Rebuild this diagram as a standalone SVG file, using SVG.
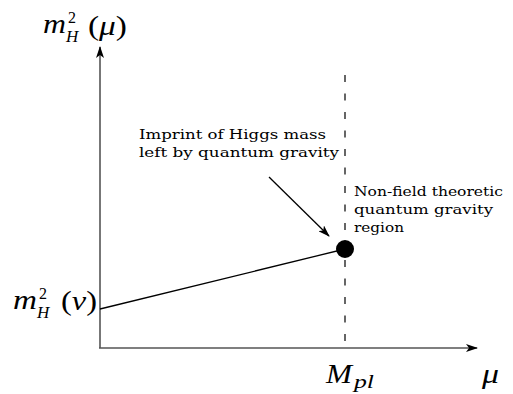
<svg xmlns="http://www.w3.org/2000/svg" width="513" height="394" viewBox="0 0 513 394">
<style>
.axis{stroke:#555;stroke-width:1.6;fill:none}
.curve{stroke:#000;stroke-width:1.3;fill:none}
.dash{stroke:#000;stroke-width:1.2;stroke-dasharray:7 11.5;fill:none}
.lbl{font-family:"DejaVu Serif","Liberation Serif",serif;font-size:12.5px;fill:#000}
.math{font-family:"Liberation Serif","DejaVu Serif",serif;font-style:italic;fill:#000}
.up{font-family:"Liberation Serif","DejaVu Serif",serif;font-style:normal;fill:#000}
</style>
<defs>
<marker id="ah" viewBox="0 0 12 8" refX="11" refY="4" markerWidth="12" markerHeight="8" markerUnits="userSpaceOnUse" orient="auto">
<path d="M0,0 L12,4 L0,8 L3,4 Z" fill="#000"/>
</marker>
</defs>
<g id="connectors">
<line class="axis" x1="100" y1="348" x2="100" y2="47" marker-end="url(#ah)"/>
<line class="axis" x1="99" y1="348" x2="477" y2="348" marker-end="url(#ah)"/>
<line class="dash" x1="345" y1="75" x2="345" y2="348"/>
<line class="curve" x1="100" y1="309" x2="345" y2="249"/>
<line class="curve" x1="269" y1="177" x2="329" y2="236" marker-end="url(#ah)"/>
</g>
<g id="dot"><circle cx="345" cy="249" r="9" fill="#000"/></g>
<g id="ylabel">
<text class="math" font-size="27" x="43" y="33" textLength="23" lengthAdjust="spacingAndGlyphs">m</text>
<text class="up" font-size="16" x="68" y="23">2</text>
<text class="math" font-size="17" x="66" y="42">H</text>
<text class="up" font-size="28" x="88" y="35" textLength="39" lengthAdjust="spacingAndGlyphs">(<tspan class="math">μ</tspan>)</text>
</g>
<g id="vlabel">
<text class="math" font-size="27" x="13" y="309" textLength="24" lengthAdjust="spacingAndGlyphs">m</text>
<text class="up" font-size="16" x="39" y="299">2</text>
<text class="math" font-size="17" x="37" y="318">H</text>
<text class="up" font-size="28" x="61" y="310" textLength="36" lengthAdjust="spacingAndGlyphs">(<tspan class="math">v</tspan>)</text>
</g>
<g id="mpl">
<text class="math" font-size="27" x="326" y="383" textLength="26" lengthAdjust="spacingAndGlyphs">M</text>
<text class="math" font-size="19" x="354" y="388" textLength="20" lengthAdjust="spacingAndGlyphs">pl</text>
</g>
<g id="mu"><text class="math" font-size="28" x="482" y="383" textLength="17" lengthAdjust="spacingAndGlyphs">μ</text></g>
<g id="imprint">
<text class="lbl" x="139" y="139" textLength="187" lengthAdjust="spacingAndGlyphs">Imprint of Higgs mass</text>
<text class="lbl" x="139" y="157" textLength="200" lengthAdjust="spacingAndGlyphs">left by quantum gravity</text>
</g>
<g id="region">
<text class="lbl" x="354" y="196" textLength="149" lengthAdjust="spacingAndGlyphs">Non-field theoretic</text>
<text class="lbl" x="354" y="214" textLength="139" lengthAdjust="spacingAndGlyphs">quantum gravity</text>
<text class="lbl" x="354" y="232" textLength="50" lengthAdjust="spacingAndGlyphs">region</text>
</g>
</svg>
